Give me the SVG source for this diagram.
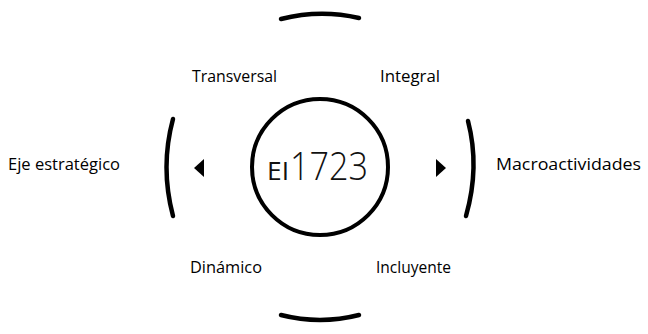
<svg xmlns="http://www.w3.org/2000/svg" width="648" height="334" viewBox="0 0 648 334">
<style>
.lbl{font-family:"Open Sans","Noto Sans","Liberation Sans",sans-serif;font-size:16px;fill:#000}
.arc{fill:none;stroke:#000;stroke-width:4.5;stroke-linecap:round}
.tri{fill:#000}
</style>
<rect width="648" height="334" fill="#fff"/>
<g id="center">
<circle cx="320" cy="167" r="68" fill="none" stroke="#000" stroke-width="4"/>
<text x="267" y="180" font-family="Open Sans, Noto Sans, sans-serif" font-size="26" fill="#111" textLength="22" lengthAdjust="spacingAndGlyphs">EI</text>
<text x="290" y="180" font-family="Open Sans, Noto Sans, sans-serif" font-size="39" font-weight="300" fill="#111" textLength="78" lengthAdjust="spacingAndGlyphs">1723</text>
</g>
<g id="connectors">
<path class="arc" d="M281 19 Q320 9 359 18"/>
<path class="arc" d="M281 315 Q320 325 359 315"/>
<path class="arc" d="M173 119 Q160 167 173 216"/>
<path class="arc" d="M468 121 Q480 167 466 216"/>
<polygon class="tri" points="194,168 204,159 204,177"/>
<polygon class="tri" points="446,168 436,159 436,177"/>
</g>
<g id="transversal"><text class="lbl" x="192" y="82" textLength="85" lengthAdjust="spacingAndGlyphs">Transversal</text></g>
<g id="integral"><text class="lbl" x="380" y="82" textLength="60" lengthAdjust="spacingAndGlyphs">Integral</text></g>
<g id="eje"><text class="lbl" x="8" y="170" textLength="112" lengthAdjust="spacingAndGlyphs">Eje estratégico</text></g>
<g id="macro"><text class="lbl" x="496" y="170" textLength="145" lengthAdjust="spacingAndGlyphs">Macroactividades</text></g>
<g id="dinamico"><text class="lbl" x="190" y="273" textLength="72" lengthAdjust="spacingAndGlyphs">Dinámico</text></g>
<g id="incluyente"><text class="lbl" x="376" y="273" textLength="75" lengthAdjust="spacingAndGlyphs">Incluyente</text></g>
</svg>
